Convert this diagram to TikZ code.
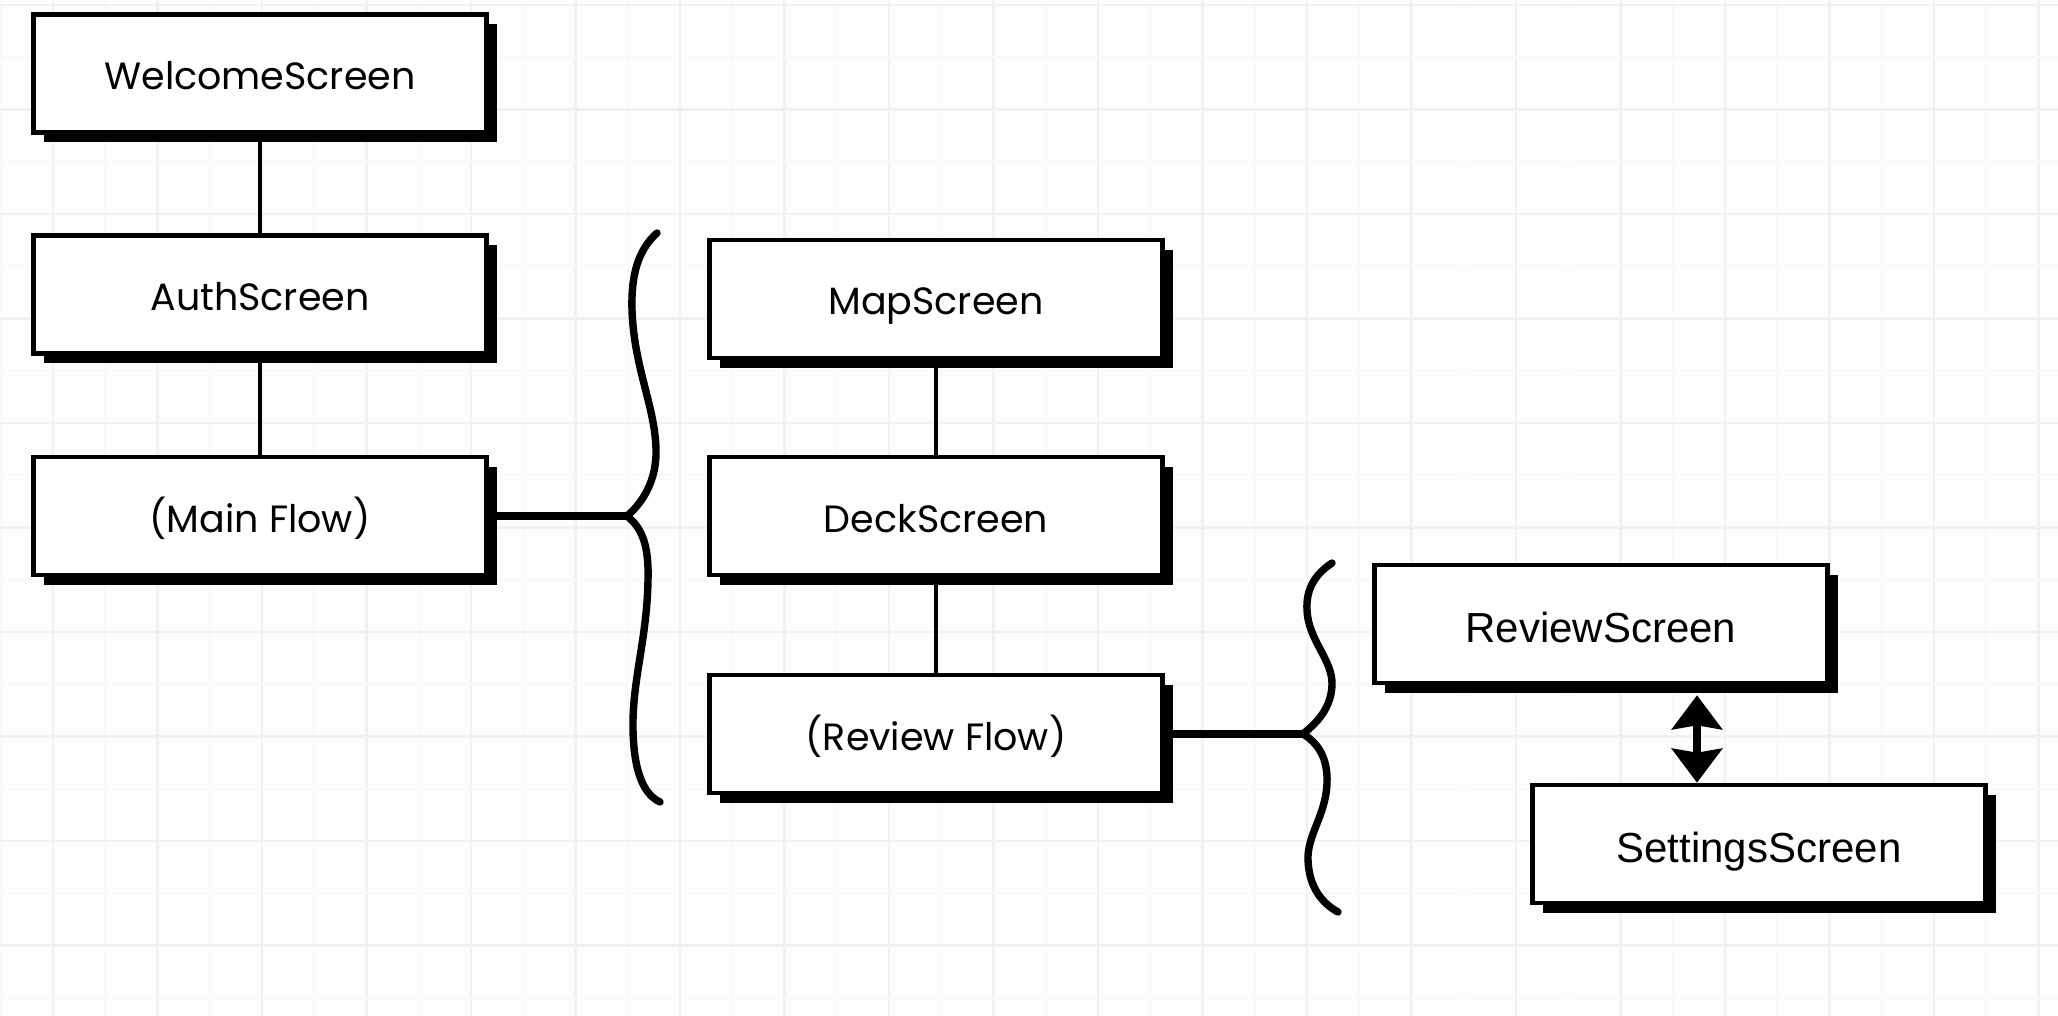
\documentclass[tikz,border=0pt]{standalone}
\usepackage{fontspec}
\setmainfont{Poppins}
\newfontfamily\arialfont{Liberation Sans}
\usetikzlibrary{arrows.meta,shadows}
\pgfdeclarelayer{bg}
\pgfdeclarelayer{lines}
\pgfsetlayers{bg,lines,main}
\begin{document}
\begin{tikzpicture}[x=0.5pt,y=-0.5pt,
  screen/.style={draw=black, line width=2.3pt, fill=white,
    minimum width=226.5pt, minimum height=59pt, inner sep=0pt,
    text height=17pt, text depth=1pt,
    font=\fontsize{19}{22}\selectfont,
    general shadow={fill=black, shadow xshift=5pt, shadow yshift=-5pt}},
  screenb/.style={screen, text height=19.5pt, text depth=1pt,
    font=\arialfont\fontsize{21}{25}\selectfont},
  link/.style={line width=1.9pt},
  bus/.style={line width=3.6pt},
  curly/.style={line width=3.7pt, line cap=round, line join=round},
  dbl/.style={line width=4.4pt,
    {Stealth[length=17pt,width=25pt,inset=2pt]}-{Stealth[length=17pt,width=25pt,inset=2pt]}},
  gmajor/.style={draw=black!5.5, line width=1.4pt},
  gminor/.style={draw=black!2.5, line width=1pt}
]
\useasboundingbox (0,0) rectangle (2058,1016);
\begin{pgfonlayer}{bg}
  \fill[black!0.7] (0,0) rectangle (2058,1016);
  \foreach \k in {0,...,19} {
    \draw[gminor] ({0.75+104.5*\k},0) -- ++(0,1016);
    \draw[gmajor] ({53+104.5*\k},0) -- ++(0,1016);
  }
  \foreach \k in {0,...,9} {
    \draw[gmajor] (0,{5+104.5*\k}) -- ++(2058,0);
    \draw[gminor] (0,{57.25+104.5*\k}) -- ++(2058,0);
  }
\end{pgfonlayer}

\node[screen] (welcome) at (260,73.5) {WelcomeScreen};
\node[screen] (auth) at (260,294.5) {AuthScreen};
\node[screen] (mainflow) at (260,516) {(Main Flow)};
\node[screen] (map) at (936,299) {MapScreen};
\node[screen] (deck) at (936,516) {DeckScreen};
\node[screen] (reviewflow) at (936,734) {(Review Flow)};
\node[screenb] (review) at (1601,624) {ReviewScreen};
\node[screenb] (settings) at (1759,844) {SettingsScreen};

\coordinate (tip1) at (627,516);
\coordinate (tip2) at (1303,734);
\coordinate (ax) at (1697,0);
\coordinate (rsb) at ([yshift=-5pt]review.south);

\begin{pgfonlayer}{lines}
  \draw[link] (welcome.south) -- (auth.north);
  \draw[link] (auth.south) -- (mainflow.north);
  \draw[link] (map.south) -- (deck.north);
  \draw[link] (deck.south) -- (reviewflow.north);
  \draw[bus] (mainflow.east) -- (tip1);
  \draw[bus] (reviewflow.east) -- (tip2);
\end{pgfonlayer}

% braces
\draw[curly] (657,233) .. controls (638,250) and (631,275) .. (632,310)
  .. controls (634,370) and (657,410) .. (656,455)
  .. controls (655,485) and (640,505) .. (tip1)
  .. controls (642,528) and (649,545) .. (648,580)
  .. controls (647,640) and (632,680) .. (633,730)
  .. controls (634,775) and (645,795) .. (660,802);
\draw[curly] (1332,563) .. controls (1314,575) and (1306,590) .. (1307,610)
  .. controls (1308,640) and (1333,660) .. (1332,685)
  .. controls (1331,710) and (1315,724) .. (tip2)
  .. controls (1318,743) and (1328,758) .. (1327,783)
  .. controls (1326,815) and (1307,835) .. (1308,860)
  .. controls (1309,890) and (1325,905) .. (1338,912);

\draw[dbl] (rsb -| ax) -- (settings.north -| ax);
\end{tikzpicture}
\end{document}
